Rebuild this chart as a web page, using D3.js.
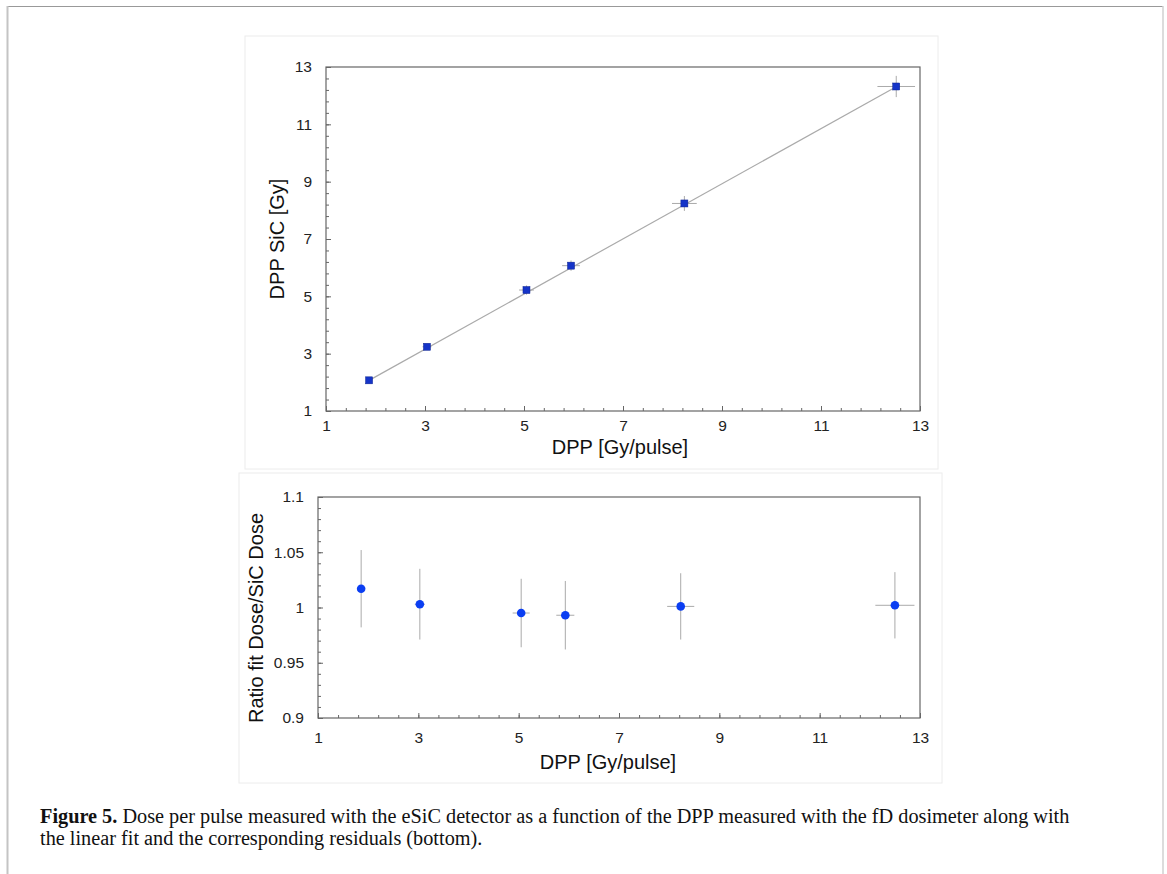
<!DOCTYPE html>
<html>
<head>
<meta charset="utf-8">
<script src="https://cdn.jsdelivr.net/npm/d3@7"></script>
<style>
  html, body { margin: 0; padding: 0; background: #fff; }
  svg { display: block; }
  .tick text { font-family: 'Liberation Sans', Arial, sans-serif; font-size: 15.5px; fill: #222; }
</style>
</head>
<body>
<svg id="fig" width="1167" height="874"></svg>
<script>
// data
var dppX      = [1.87, 3.04, 5.05, 5.95, 8.24, 12.52];
var dppXErr   = [0.06, 0.09, 0.15, 0.18, 0.25, 0.38];
var sicY      = [2.07, 3.24, 5.22, 6.07, 8.24, 12.32];
var sicYErr   = [0.06, 0.10, 0.16, 0.18, 0.26, 0.37];
var fitSlope  = 0.962;
var fitOffset = 0.27;

var ratioX    = [1.86, 3.03, 5.05, 5.93, 8.23, 12.50];
var ratioXErr = [0.06, 0.10, 0.17, 0.18, 0.27, 0.39];
var ratio     = [1.017, 1.003, 0.995, 0.993, 1.001, 1.002];
var ratioErr  = [0.035, 0.032, 0.031, 0.031, 0.030, 0.030];

var xTicks      = [1, 3, 5, 7, 9, 11, 13];
var yTicksTop   = [1, 3, 5, 7, 9, 11, 13];
var yTicksBot   = [0.9, 0.95, 1, 1.05, 1.1];

var captionBold = "Figure 5.";
var captionL1   = " Dose per pulse measured with the eSiC detector as a function of the DPP measured with the fD dosimeter along with";
var captionL2   = "the linear fit and the corresponding residuals (bottom).";

var svg = d3.select("#fig");
var sans = "'Liberation Sans', Arial, sans-serif";

// page frame
svg.append("line").attr("x1", 7).attr("x2", 1163).attr("y1", 6.5).attr("y2", 6.5)
  .attr("stroke", "#999").attr("stroke-width", 1);
svg.append("line").attr("x1", 7.5).attr("x2", 7.5).attr("y1", 6).attr("y2", 874)
  .attr("stroke", "#c4c4c4").attr("stroke-width", 2);
svg.append("line").attr("x1", 1163).attr("x2", 1163).attr("y1", 6).attr("y2", 874)
  .attr("stroke", "#d0d0d0").attr("stroke-width", 1.5);

// light panel boxes
svg.append("rect").attr("x", 245).attr("y", 36).attr("width", 693).attr("height", 433)
  .attr("fill", "#fff").attr("stroke", "#ececec");
svg.append("rect").attr("x", 239).attr("y", 473).attr("width", 703).attr("height", 310)
  .attr("fill", "#fff").attr("stroke", "#ececec");

function minorTicks(lo, hi, step) {
  var out = [];
  for (var v = lo; v <= hi + 1e-9; v += step) out.push(+v.toFixed(4));
  return out;
}

function drawFrame(g, x, y, yt, yFmt, minorY, labels, pos) {
  var w = x.range()[1], h = y.range()[0];
  var xAx = g.append("g").attr("transform", "translate(0," + h + ")");
  xAx.append("g").call(d3.axisBottom(x).tickValues(minorTicks(1, 13, 0.4)).tickSize(-3).tickFormat("").tickSizeOuter(0));
  xAx.append("g").call(d3.axisBottom(x).tickValues(xTicks).tickSize(-5).tickPadding(pos.xPad).tickSizeOuter(0));
  var yAx = g.append("g");
  yAx.append("g").call(d3.axisLeft(y).tickValues(minorY).tickSize(-3).tickFormat("").tickSizeOuter(0));
  yAx.append("g").call(d3.axisLeft(y).tickValues(yt).tickFormat(yFmt).tickSize(-5).tickPadding(14).tickSizeOuter(0));
  g.selectAll(".tick line").attr("stroke", "#666");
  g.selectAll(".domain").attr("stroke", "none");
  g.append("rect").attr("x", 0).attr("y", 0).attr("width", w).attr("height", h)
    .attr("fill", "none").attr("stroke", "#666").attr("stroke-width", 1.2);
  g.append("text").attr("x", pos.xtX).attr("y", pos.xtY).attr("text-anchor", "middle")
    .attr("font-family", sans).attr("font-size", pos.fs).attr("fill", "#111").text(labels[0]);
  g.append("text").attr("transform", "translate(" + pos.ytX + "," + pos.ytY + ") rotate(-90)")
    .attr("text-anchor", "middle").attr("font-family", sans).attr("font-size", pos.fs)
    .attr("fill", "#111").text(labels[1]);
}

// ---------- top panel ----------
var topG = svg.append("g").attr("transform", "translate(326,67)");
var xT = d3.scaleLinear().domain([1, 13]).range([0, 594]);
var yT = d3.scaleLinear().domain([1, 13]).range([344, 0]);
drawFrame(topG, xT, yT, yTicksTop, d3.format("d"), minorTicks(1, 13, 0.4),
  ["DPP [Gy/pulse]", "DPP SiC [Gy]"],
  { xPad: 9, fs: 20, xtX: 294, xtY: 387, ytX: -42, ytY: 172 });

topG.append("line")
  .attr("x1", xT(dppX[0])).attr("y1", yT(fitSlope * dppX[0] + fitOffset))
  .attr("x2", xT(dppX[5])).attr("y2", yT(fitSlope * dppX[5] + fitOffset))
  .attr("stroke", "#aaa").attr("stroke-width", 1.2);

var pts = dppX.map(function(d, i) { return { x: d, xe: dppXErr[i], y: sicY[i], ye: sicYErr[i] }; });
var eb = topG.append("g").attr("stroke", "#aaa").attr("stroke-width", 1);
eb.selectAll(".h").data(pts).enter().append("line")
  .attr("x1", function(d) { return xT(d.x - d.xe); }).attr("x2", function(d) { return xT(d.x + d.xe); })
  .attr("y1", function(d) { return yT(d.y); }).attr("y2", function(d) { return yT(d.y); });
eb.selectAll(".v").data(pts).enter().append("line")
  .attr("x1", function(d) { return xT(d.x); }).attr("x2", function(d) { return xT(d.x); })
  .attr("y1", function(d) { return yT(d.y - d.ye); }).attr("y2", function(d) { return yT(d.y + d.ye); });
topG.selectAll(".sq").data(pts).enter().append("rect")
  .attr("x", function(d) { return xT(d.x) - 3.5; }).attr("y", function(d) { return yT(d.y) - 3.5; })
  .attr("width", 7).attr("height", 7)
  .attr("fill", "#1534c8").attr("stroke", "#0b2190").attr("stroke-width", 0.5);

// ---------- bottom panel ----------
var botG = svg.append("g").attr("transform", "translate(318,497)");
var xB = d3.scaleLinear().domain([1, 13]).range([0, 602]);
var yB = d3.scaleLinear().domain([0.9, 1.1]).range([221, 0]);
drawFrame(botG, xB, yB, yTicksBot, function(d) { return String(+d.toFixed(2)); }, minorTicks(0.9, 1.1, 0.01),
  ["DPP [Gy/pulse]", "Ratio fit Dose/SiC Dose"],
  { xPad: 14, fs: 20, xtX: 290, xtY: 272, ytX: -55, ytY: 121 });

var rpts = ratioX.map(function(d, i) { return { x: d, xe: ratioXErr[i], y: ratio[i], ye: ratioErr[i] }; });
var eb2 = botG.append("g").attr("stroke", "#aaa").attr("stroke-width", 1);
eb2.selectAll(".h").data(rpts).enter().append("line")
  .attr("x1", function(d) { return xB(d.x - d.xe); }).attr("x2", function(d) { return xB(d.x + d.xe); })
  .attr("y1", function(d) { return yB(d.y); }).attr("y2", function(d) { return yB(d.y); });
eb2.selectAll(".v").data(rpts).enter().append("line")
  .attr("x1", function(d) { return xB(d.x); }).attr("x2", function(d) { return xB(d.x); })
  .attr("y1", function(d) { return yB(d.y - d.ye); }).attr("y2", function(d) { return yB(d.y + d.ye); });
botG.selectAll(".dot").data(rpts).enter().append("circle")
  .attr("cx", function(d) { return xB(d.x); }).attr("cy", function(d) { return yB(d.y); })
  .attr("r", 4.3).attr("fill", "#0b3ef2");

// ---------- caption ----------
var serif = "'Liberation Serif', 'Times New Roman', serif";
var cap = svg.append("g").attr("font-family", serif).attr("fill", "#111");
var l1 = cap.append("text").attr("x", 40).attr("y", 823).attr("font-size", 17);
l1.append("tspan").attr("font-weight", "bold").text(captionBold);
l1.append("tspan").text(captionL1);
var l2 = cap.append("text").attr("x", 40).attr("y", 845).attr("font-size", 17).text(captionL2);
var fs = 17 * 1030 / l1.node().getComputedTextLength();
l1.attr("font-size", fs);
l2.attr("font-size", fs);
</script>
</body>
</html>
